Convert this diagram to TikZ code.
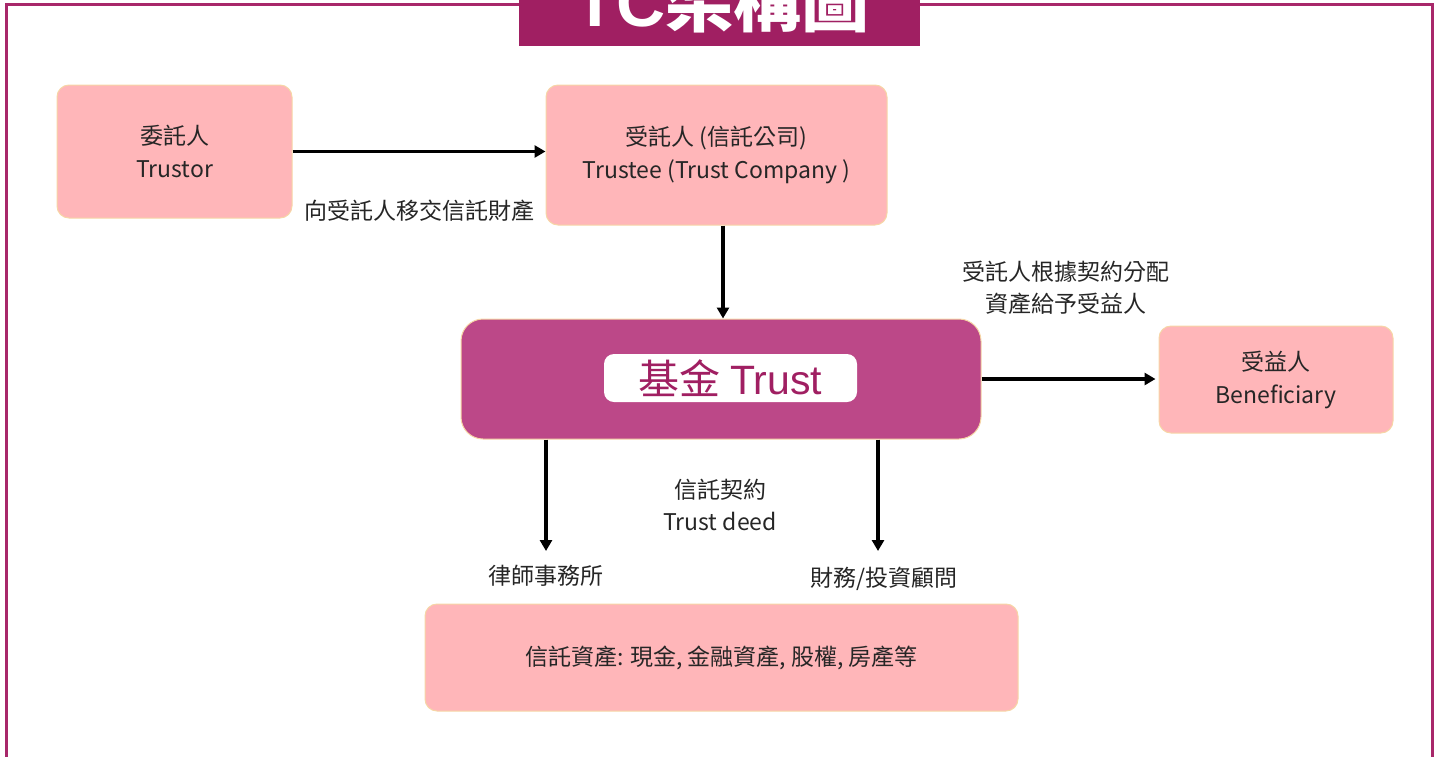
\documentclass[tikz,border=0pt]{standalone}
\usepackage{fontspec}
\setmainfont{Noto Sans CJK TC}
\newfontfamily\arialfont{Liberation Sans}
\usetikzlibrary{arrows.meta}
\definecolor{pinkbox}{HTML}{FFB6B9}
\definecolor{pinkedge}{HTML}{F6D6A6}
\definecolor{trustfill}{HTML}{BC4888}
\definecolor{titlefill}{HTML}{A01F62}
\definecolor{framecol}{HTML}{A8286A}
\definecolor{txt}{HTML}{262626}
\tikzset{
  pinkbox/.style={draw=pinkedge, line width=1pt, fill=pinkbox, rounded corners=12pt,
    text=txt, align=center, font=\fontsize{23}{33}\selectfont, inner sep=0pt},
  lbl/.style={text=txt, align=center, font=\fontsize{23}{32}\selectfont, inner sep=0pt},
  arr/.style={line width=3.2pt, -{Triangle[length=11pt,width=12pt]}},
  framelin/.style={draw=framecol, line width=3pt},
}
\begin{document}
\begin{tikzpicture}[x=1pt,y=-1pt]
\useasboundingbox (0,0) rectangle (1438,756);
% frame
\draw[framelin] (519,4) -- (6,4) -- (6,770);
\draw[framelin] (920,4) -- (1432,4) -- (1432,770);
% title
\node[fill=titlefill, minimum width=401pt, minimum height=66pt, inner sep=0pt] (title) at (719.5,13) {};
\node[anchor=base, text=white, font=\fontsize{68}{70}\selectfont\bfseries, inner sep=0pt] (titletext) at (722,26) {{\arialfont TC}架構圖};
% boxes
\node[pinkbox, minimum width=235pt, minimum height=133pt] (trustor) at (174.5,151.5) {委託人\\Trustor};
\node[pinkbox, minimum width=341pt, minimum height=140pt] (trustee) at (716.5,155) {受託人 (信託公司)\\Trustee (Trust Company )};
\node[draw=pinkedge, line width=1pt, fill=trustfill, rounded corners=22pt, minimum width=520pt, minimum height=120pt] (trust) at (721,379) {};
\node[fill=white, rounded corners=10pt, minimum width=253pt, minimum height=48pt, inner sep=0pt,
  text=titlefill, font=\fontsize{41}{44}\selectfont] (trustlabel) at (730.5,378) {基金 {\arialfont Trust}};
\node[pinkbox, minimum width=234pt, minimum height=107pt] (benef) at (1276,379.5) {受益人\\Beneficiary};
\node[pinkbox, minimum width=593pt, minimum height=107pt] (assets) at (721.5,657.5) {信託資產: 現金, 金融資產, 股權, 房產等};
% connectors
\coordinate (lawend) at (546,551);
\coordinate (finend) at (878,551);
\draw[arr] (trustor.east) -- (trustor.east -| trustee.west);
\draw[arr] ([xshift=6.5pt]trustee.south) -- ([xshift=6.5pt]trustee.south |- trust.north);
\draw[arr] (trust.east) -- ([xshift=-3pt]trust.east -| benef.west);
\draw[arr] (trust.south -| lawend) -- (lawend);
\draw[arr] (trust.south -| finend) -- (finend);
% labels
\node[lbl] (l1) at (419,211) {向受託人移交信託財產};
\node[lbl] (l2) at (1066,288) {受託人根據契約分配\\資產給予受益人};
\node[lbl] (l3) at (720,505) {信託契約\\Trust deed};
\node[lbl] (l4) at (546,576) {律師事務所};
\node[lbl] (l5) at (884,579) {財務/投資顧問};
\end{tikzpicture}
\end{document}
